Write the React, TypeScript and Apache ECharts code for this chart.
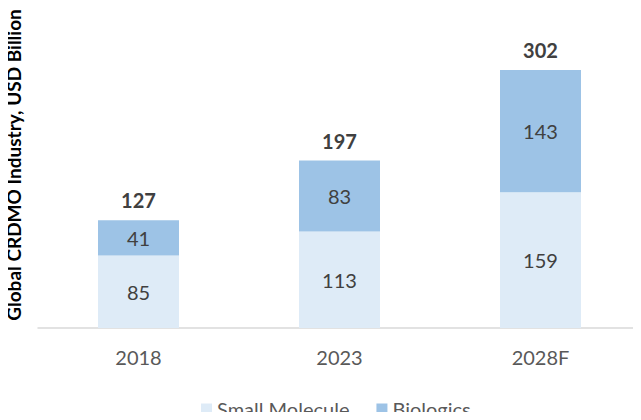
import React, { useEffect, useRef } from "react";
import * as echarts from "echarts";

const categories = ["2018", "2023", "2028F"];
const smallMolecule = [85, 113, 159];
const biologics = [41, 83, 143];
const totals = [127, 197, 302];
const yTitle = "Global CRDMO Industry, USD Billion";

const FONT = "Lato, 'Open Sans', sans-serif";

export default function App() {
  const ref = useRef<HTMLDivElement>(null);
  useEffect(() => {
    if (!ref.current) return;
    const chart = echarts.init(ref.current, undefined, { renderer: "svg" });
    chart.setOption({
      animation: false,
      textStyle: { fontFamily: FONT },
      grid: { left: 38, right: -4, top: 29, bottom: 92, containLabel: false },
      legend: {
        data: ["Small Molecule", "Biologics"],
        top: 394,
        left: 196,
        itemWidth: 11,
        itemHeight: 11,
        itemGap: 27,
        icon: "rect",
        textStyle: { fontSize: 20, color: "#595959", fontFamily: FONT },
      },
      xAxis: {
        type: "category",
        data: categories,
        axisLine: { lineStyle: { color: "#D9D9D9", width: 1.5 } },
        axisTick: { show: false },
        axisLabel: { fontSize: 20, color: "#595959", margin: 19, fontFamily: FONT },
      },
      yAxis: {
        type: "value",
        min: 0,
        max: 350,
        show: false,
        splitLine: { show: false },
      },
      graphic: [
        {
          type: "text",
          x: 13,
          y: 165,
          rotation: Math.PI / 2,
          style: {
            text: yTitle,
            fontSize: 19,
            fontWeight: "bold",
            fill: "#000",
            fontFamily: FONT,
            textAlign: "center",
            textVerticalAlign: "middle",
          },
        },
      ],
      series: [
        {
          name: "Small Molecule",
          type: "bar",
          stack: "total",
          barWidth: 81,
          data: smallMolecule,
          itemStyle: { color: "#DEEBF7" },
          label: { show: true, position: "inside", fontSize: 20, color: "#404040", fontFamily: FONT },
        },
        {
          name: "Biologics",
          type: "bar",
          stack: "total",
          barWidth: 81,
          data: biologics,
          itemStyle: { color: "#9DC3E6" },
          label: { show: true, position: "inside", fontSize: 20, color: "#404040", fontFamily: FONT },
        },
        {
          name: "Total",
          type: "bar",
          stack: "total",
          barWidth: 81,
          data: totals.map(() => 0),
          itemStyle: { color: "transparent" },
          label: {
            show: true,
            position: "top",
            distance: 10,
            fontSize: 20,
            fontWeight: "bold",
            color: "#404040",
            fontFamily: FONT,
            formatter: (p: any) => String(totals[p.dataIndex]),
          },
        },
      ],
    });
    return () => chart.dispose();
  }, []);
  return <div ref={ref} style={{ width: 641, height: 420, margin: -8 }} />;
}
